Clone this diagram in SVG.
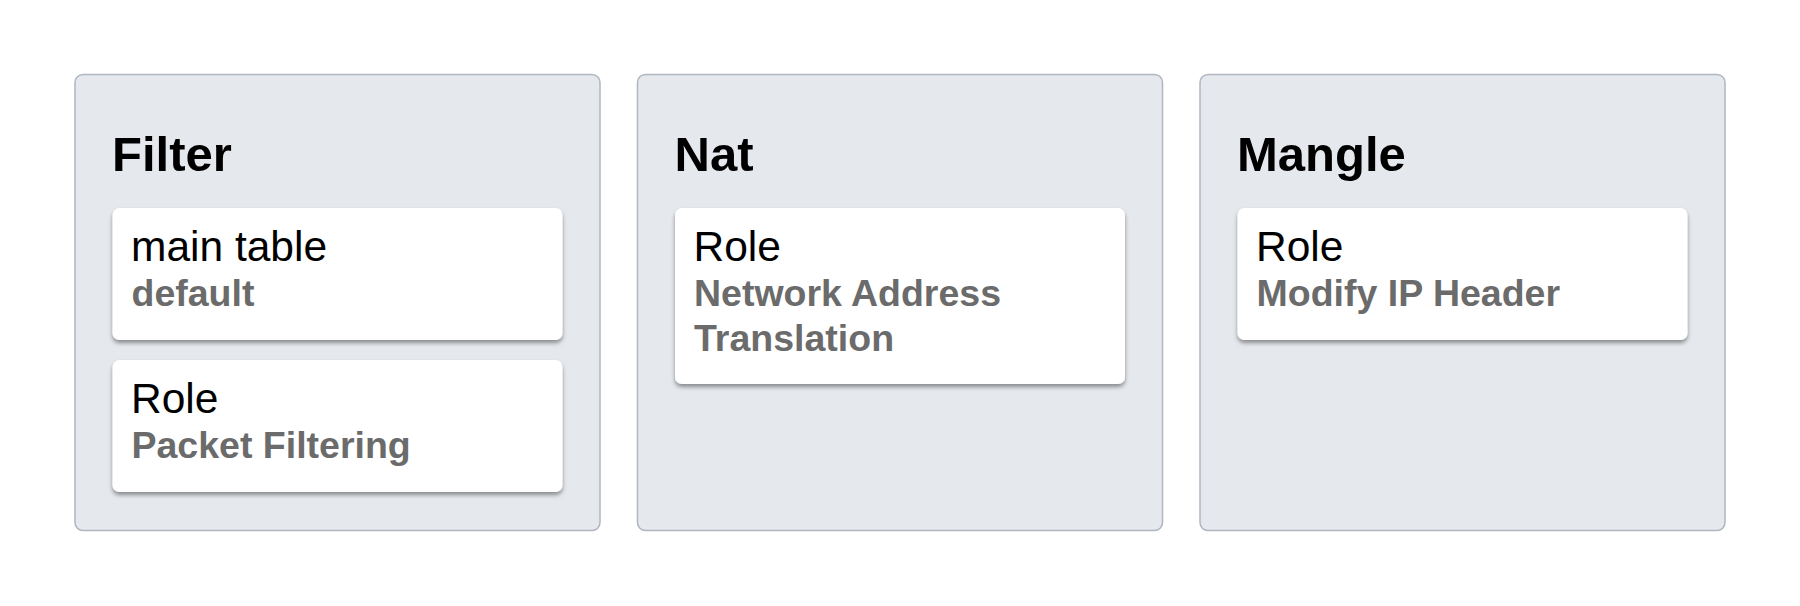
<svg xmlns="http://www.w3.org/2000/svg" width="1800" height="606" viewBox="0 0 1800 606">
<defs>
<filter id="sh" x="-5%" y="-10%" width="110%" height="130%">
<feDropShadow dx="0" dy="3" stdDeviation="2.2" flood-color="#000" flood-opacity="0.4"/>
</filter>
<style>
.panel{fill:#e5e8ed;stroke:#afb6c1;stroke-width:1.5}
.card{fill:#fff;filter:url(#sh)}
.title{font-family:"Liberation Sans",Arial,sans-serif;font-weight:bold;font-size:49px;fill:#000}
.main{font-family:"Liberation Sans",Arial,sans-serif;font-size:42.5px;fill:#000}
.sub{font-family:"Liberation Sans",Arial,sans-serif;font-weight:bold;font-size:37.5px;fill:#6b6b6b}
</style>
</defs>
<rect width="1800" height="606" fill="#fff"/>
<g id="filter">
<rect class="panel" x="75" y="74.5" width="525" height="456" rx="8"/>
<text class="title" x="112" y="171">Filter</text>
</g>
<g id="filter-main">
<rect class="card" x="112.5" y="208" width="450" height="132" rx="7"/>
<text class="main" x="131" y="260.5">main table</text>
<text class="sub" x="131.5" y="306">default</text>
</g>
<g id="filter-role">
<rect class="card" x="112.5" y="360" width="450" height="132" rx="7"/>
<text class="main" x="131" y="412.5">Role</text>
<text class="sub" x="131.5" y="458">Packet Filtering</text>
</g>
<g id="nat">
<rect class="panel" x="637.5" y="74.5" width="525" height="456" rx="8"/>
<text class="title" x="674.5" y="171">Nat</text>
</g>
<g id="nat-role">
<rect class="card" x="675" y="208" width="450" height="176" rx="7"/>
<text class="main" x="693.5" y="260.5">Role</text>
<text class="sub" x="694" y="306">Network Address</text>
<text class="sub" x="694" y="350.5">Translation</text>
</g>
<g id="mangle">
<rect class="panel" x="1200" y="74.5" width="525" height="456" rx="8"/>
<text class="title" x="1237" y="171">Mangle</text>
</g>
<g id="mangle-role">
<rect class="card" x="1237.5" y="208" width="450" height="132" rx="7"/>
<text class="main" x="1256" y="260.5">Role</text>
<text class="sub" x="1256.5" y="306">Modify IP Header</text>
</g>
<g id="connectors"></g>
</svg>
